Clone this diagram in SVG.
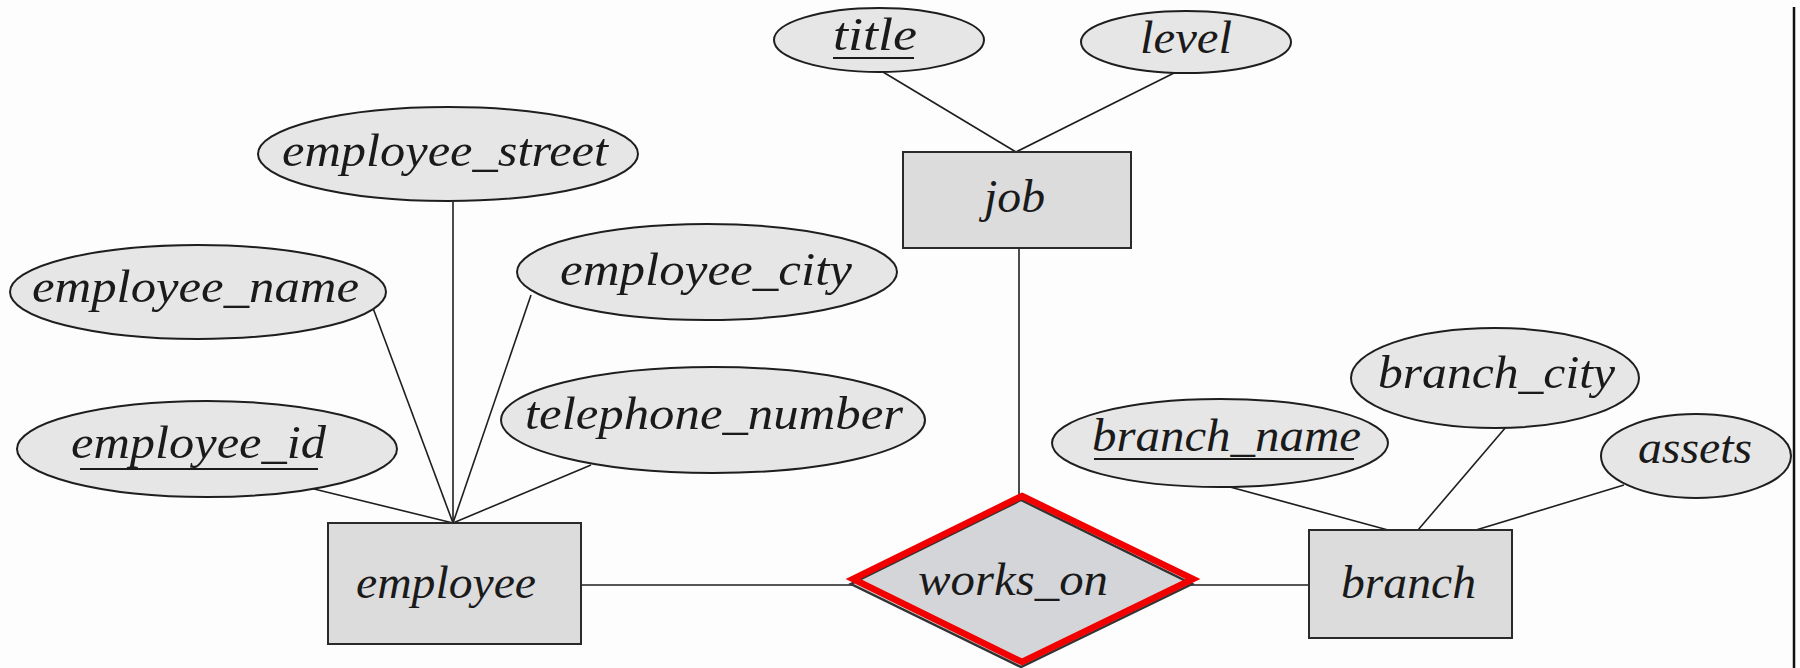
<svg xmlns="http://www.w3.org/2000/svg" width="1800" height="668" viewBox="0 0 1800 668">
<style>
.attr{fill:#e6e6e6;stroke:#1e1e1e;stroke-width:2}
.ent{fill:#dcdcdd;stroke:#2a2a2a;stroke-width:2}
.t{font-family:"Liberation Serif","DejaVu Serif",serif;font-style:italic;font-size:47px;fill:#1a1a1a}
.u{stroke:#1a1a1a;stroke-width:2}
.c{stroke:#1e1e1e;stroke-width:1.6;fill:none}
</style>
<rect x="0" y="0" width="1800" height="668" fill="#fdfdfd"/>
<line x1="1794" y1="7" x2="1794" y2="668" stroke="#111" stroke-width="2.5"/>
<g id="connectors">
<line class="c" x1="883" y1="72" x2="1016" y2="152"/>
<line class="c" x1="1174" y1="73" x2="1016" y2="152"/>
<line class="c" x1="1019" y1="248" x2="1019" y2="500"/>
<line class="c" x1="453" y1="202" x2="453" y2="523"/>
<line class="c" x1="373" y1="308" x2="453" y2="523"/>
<line class="c" x1="531" y1="295" x2="453" y2="523"/>
<line class="c" x1="310" y1="488" x2="453" y2="523"/>
<line class="c" x1="591" y1="465" x2="453" y2="523"/>
<line class="c" x1="581" y1="585" x2="853" y2="585"/>
<line class="c" x1="1191" y1="585" x2="1309" y2="585"/>
<line class="c" x1="1230" y1="487" x2="1388" y2="530"/>
<line class="c" x1="1506" y1="427" x2="1418" y2="530"/>
<line class="c" x1="1624" y1="485" x2="1476" y2="530"/>
</g>
<g id="title">
<ellipse class="attr" cx="879" cy="40" rx="105" ry="32"/>
<text class="t" x="833" y="50" textLength="84" lengthAdjust="spacingAndGlyphs">title</text>
<line class="u" x1="833" y1="58" x2="914" y2="58"/>
</g>
<g id="level">
<ellipse class="attr" cx="1186" cy="42" rx="105" ry="31"/>
<text class="t" x="1140" y="53" textLength="92" lengthAdjust="spacingAndGlyphs">level</text>
</g>
<g id="job">
<rect class="ent" x="903" y="152" width="228" height="96" fill="#e0e0e0"/>
<text class="t" x="984" y="212" textLength="61" lengthAdjust="spacingAndGlyphs">job</text>
</g>
<g id="employee_street">
<ellipse class="attr" cx="448" cy="154" rx="190" ry="47"/>
<text class="t" x="282" y="166" textLength="326" lengthAdjust="spacingAndGlyphs">employee_street</text>
</g>
<g id="employee_name">
<ellipse class="attr" cx="198" cy="292" rx="188" ry="47"/>
<text class="t" x="32" y="302" textLength="327" lengthAdjust="spacingAndGlyphs">employee_name</text>
</g>
<g id="employee_city">
<ellipse class="attr" cx="707" cy="272" rx="190" ry="48"/>
<text class="t" x="560" y="285" textLength="292" lengthAdjust="spacingAndGlyphs">employee_city</text>
</g>
<g id="employee_id">
<ellipse class="attr" cx="207" cy="449" rx="190" ry="48"/>
<text class="t" x="71" y="458" textLength="255" lengthAdjust="spacingAndGlyphs">employee_id</text>
<line class="u" x1="80" y1="469" x2="318" y2="469"/>
</g>
<g id="telephone_number">
<ellipse class="attr" cx="713" cy="420" rx="212" ry="53"/>
<text class="t" x="525" y="429" textLength="378" lengthAdjust="spacingAndGlyphs">telephone_number</text>
</g>
<g id="employee">
<rect class="ent" x="328" y="523" width="253" height="121"/>
<text class="t" x="356" y="598" textLength="180" lengthAdjust="spacingAndGlyphs">employee</text>
</g>
<g id="works_on">
<polygon points="1021,500 1192,584 1021,667 851,584" fill="#d4d5d8" stroke="#333" stroke-width="2.5"/>
<polygon points="1022,496 1193,579 1022,662 853,579" fill="none" stroke="#f20000" stroke-width="6.5" stroke-linejoin="miter"/>
<text class="t" x="918" y="595" textLength="190" lengthAdjust="spacingAndGlyphs">works_on</text>
</g>
<g id="branch">
<rect class="ent" x="1309" y="530" width="203" height="108"/>
<text class="t" x="1341" y="598" textLength="135" lengthAdjust="spacingAndGlyphs">branch</text>
</g>
<g id="branch_name">
<ellipse class="attr" cx="1220" cy="443" rx="168" ry="44"/>
<text class="t" x="1092" y="451" textLength="269" lengthAdjust="spacingAndGlyphs">branch_name</text>
<line class="u" x1="1094" y1="459" x2="1354" y2="459"/>
</g>
<g id="branch_city">
<ellipse class="attr" cx="1495" cy="378" rx="144" ry="50"/>
<text class="t" x="1378" y="388" textLength="237" lengthAdjust="spacingAndGlyphs">branch_city</text>
</g>
<g id="assets">
<ellipse class="attr" cx="1696" cy="456" rx="95" ry="42"/>
<text class="t" x="1638" y="463" textLength="114" lengthAdjust="spacingAndGlyphs">assets</text>
</g>
</svg>
